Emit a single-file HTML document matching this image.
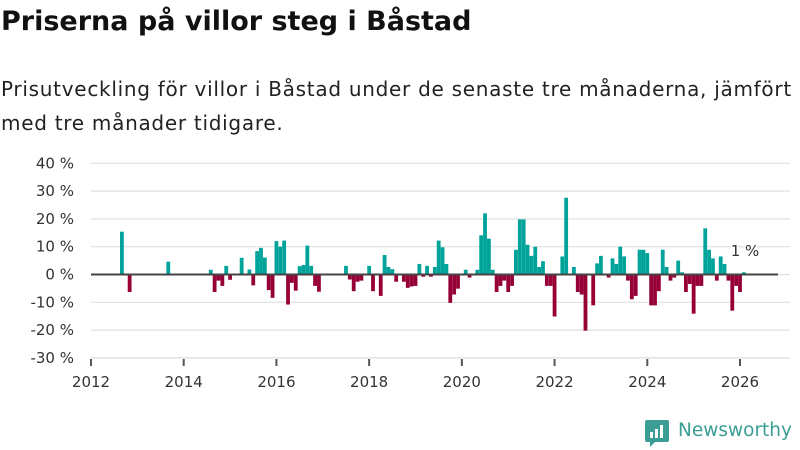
<!DOCTYPE html>
<html><head><meta charset="utf-8"><style>
body{margin:0;width:800px;height:450px;background:#fff;font-family:"DejaVu Sans","Liberation Sans",sans-serif;overflow:hidden;position:relative}
h1{position:absolute;left:1px;top:6px;margin:0;font-size:27px;font-weight:bold;color:#111;white-space:nowrap}
p{position:absolute;left:1px;top:72px;margin:0;font-size:20px;letter-spacing:0.72px;line-height:34px;color:#222;width:799px}
svg{position:absolute;left:0;top:0}
</style></head><body>
<h1>Priserna på villor steg i Båstad</h1>
<p>Prisutveckling för villor i Båstad under de senaste tre månaderna, jämfört med tre månader tidigare.</p>
<svg id="chart" width="800" height="450"></svg>
<script>
// months since Jan 2012
const months=[8,10,20,31,32,33,34,35,36,39,41,42,43,44,45,46,47,48,49,50,51,52,53,54,55,56,57,58,59,66,67,68,69,70,72,73,75,76,77,78,79,81,82,83,84,85,86,87,88,89,90,91,92,93,94,95,97,98,100,101,102,103,104,105,106,107,108,109,110,111,112,113,114,115,116,117,118,119,120,122,123,125,126,127,128,130,131,132,134,135,136,137,138,139,140,141,142,143,144,145,146,147,148,149,150,151,152,153,154,155,156,157,158,159,160,161,162,163,164,165,166,167,168,169];
const values=[15.4,-6.3,4.6,1.7,-6.3,-2.2,-4.1,3.1,-1.9,6.0,1.8,-3.9,8.4,9.6,6.1,-5.6,-8.4,12.0,10.0,12.2,-10.8,-3.0,-5.8,3.0,3.4,10.4,3.1,-4.1,-6.2,3.1,-1.8,-6.0,-2.6,-2.2,3.1,-6.0,-7.7,7.0,2.7,1.9,-2.6,-2.6,-4.8,-4.3,-4.1,3.8,-0.8,3.1,-0.8,2.7,12.2,9.8,3.8,-10.2,-7.2,-5.1,1.7,-1.1,1.7,14.1,22.0,12.9,1.7,-6.3,-4.1,-2.2,-6.3,-4.1,8.9,19.8,19.8,10.7,6.7,10.0,2.7,4.8,-4.1,-4.1,-15.1,6.5,27.6,2.7,-6.3,-7.2,-20.2,-11.1,4.0,6.7,-1.1,5.8,3.8,10.0,6.5,-2.2,-8.9,-7.7,8.9,8.9,7.7,-11.1,-11.1,-6.0,8.9,2.7,-2.2,-1.1,5.0,0.8,-6.3,-3.4,-14.1,-4.1,-4.1,16.6,8.9,5.8,-2.2,6.5,3.8,-2.2,-13.0,-4.1,-6.3,0.8];
const yTicks=[40,30,20,10,0,-10,-20,-30];
const xYears=[2012,2014,2016,2018,2020,2022,2024,2026];
const NS="http://www.w3.org/2000/svg",svg=document.getElementById('chart');
const x=m=>91+m*(649/168);
const y=v=>274.5-v*2.78;
function mk(t,a,txt){const e=document.createElementNS(NS,t);for(const k in a)e.setAttribute(k,a[k]);if(txt!=null)e.textContent=txt;svg.appendChild(e);return e;}
yTicks.forEach(v=>{
 const g=mk('line',{x1:91,x2:790,y1:y(v),y2:y(v),stroke:'#e0e0e0','stroke-width':1.2});
 
 
 const t=mk('text',{x:74,y:y(v)+5,'text-anchor':'end','font-size':15,fill:'#333'},v+' %');
 
 
});
mk('line',{x1:91,x2:790,y1:y(-30),y2:y(-30),stroke:'#ddd','stroke-width':1});
xYears.forEach(yr=>{
 const xx=x((yr-2012)*12);
 const tk=mk('line',{x1:xx,x2:xx,y1:359,y2:366,stroke:'#555','stroke-width':2});
 
 
 const t=mk('text',{x:xx,y:387,'text-anchor':'middle','font-size':15,fill:'#333'},yr);
 
 
});
months.forEach((m,i)=>{
 const v=values[i],y0=y(0),y1=y(v);
 const r=mk('rect',{x:x(m)-1.9,width:3.8,y:Math.min(y0,y1),height:Math.abs(y1-y0),fill:v>=0?'#00a39a':'#960036'});
 
 
});
const z=mk('line',{x1:91,x2:778,y1:y(0),y2:y(0),stroke:'#444','stroke-width':2});


const lastV=values[values.length-1];
const lab=mk('text',{x:745,y:256,'text-anchor':'middle','font-size':15,fill:'#333',stroke:'#fff','stroke-width':3,'paint-order':'stroke'},Math.round(lastV)+' %');


</script>
<div style="position:absolute;left:645px;top:420px;height:28px">
<svg width="24" height="28" style="position:absolute;left:0;top:0"><path d="M0 2 Q0 0 2 0 H22 Q24 0 24 2 V20 Q24 22 22 22 H10 L5 27 V22 H2 Q0 22 0 20Z" fill="#3a9e94"/><rect x="5" y="12" width="3" height="6" fill="#fff"/><rect x="10" y="9" width="3" height="9" fill="#fff"/><rect x="15" y="5" width="3" height="13" fill="#fff"/></svg>
<span style="position:absolute;left:33px;top:0px;font-size:18.5px;color:#3a9e94;white-space:nowrap">Newsworthy</span>
</div>
</body></html>
